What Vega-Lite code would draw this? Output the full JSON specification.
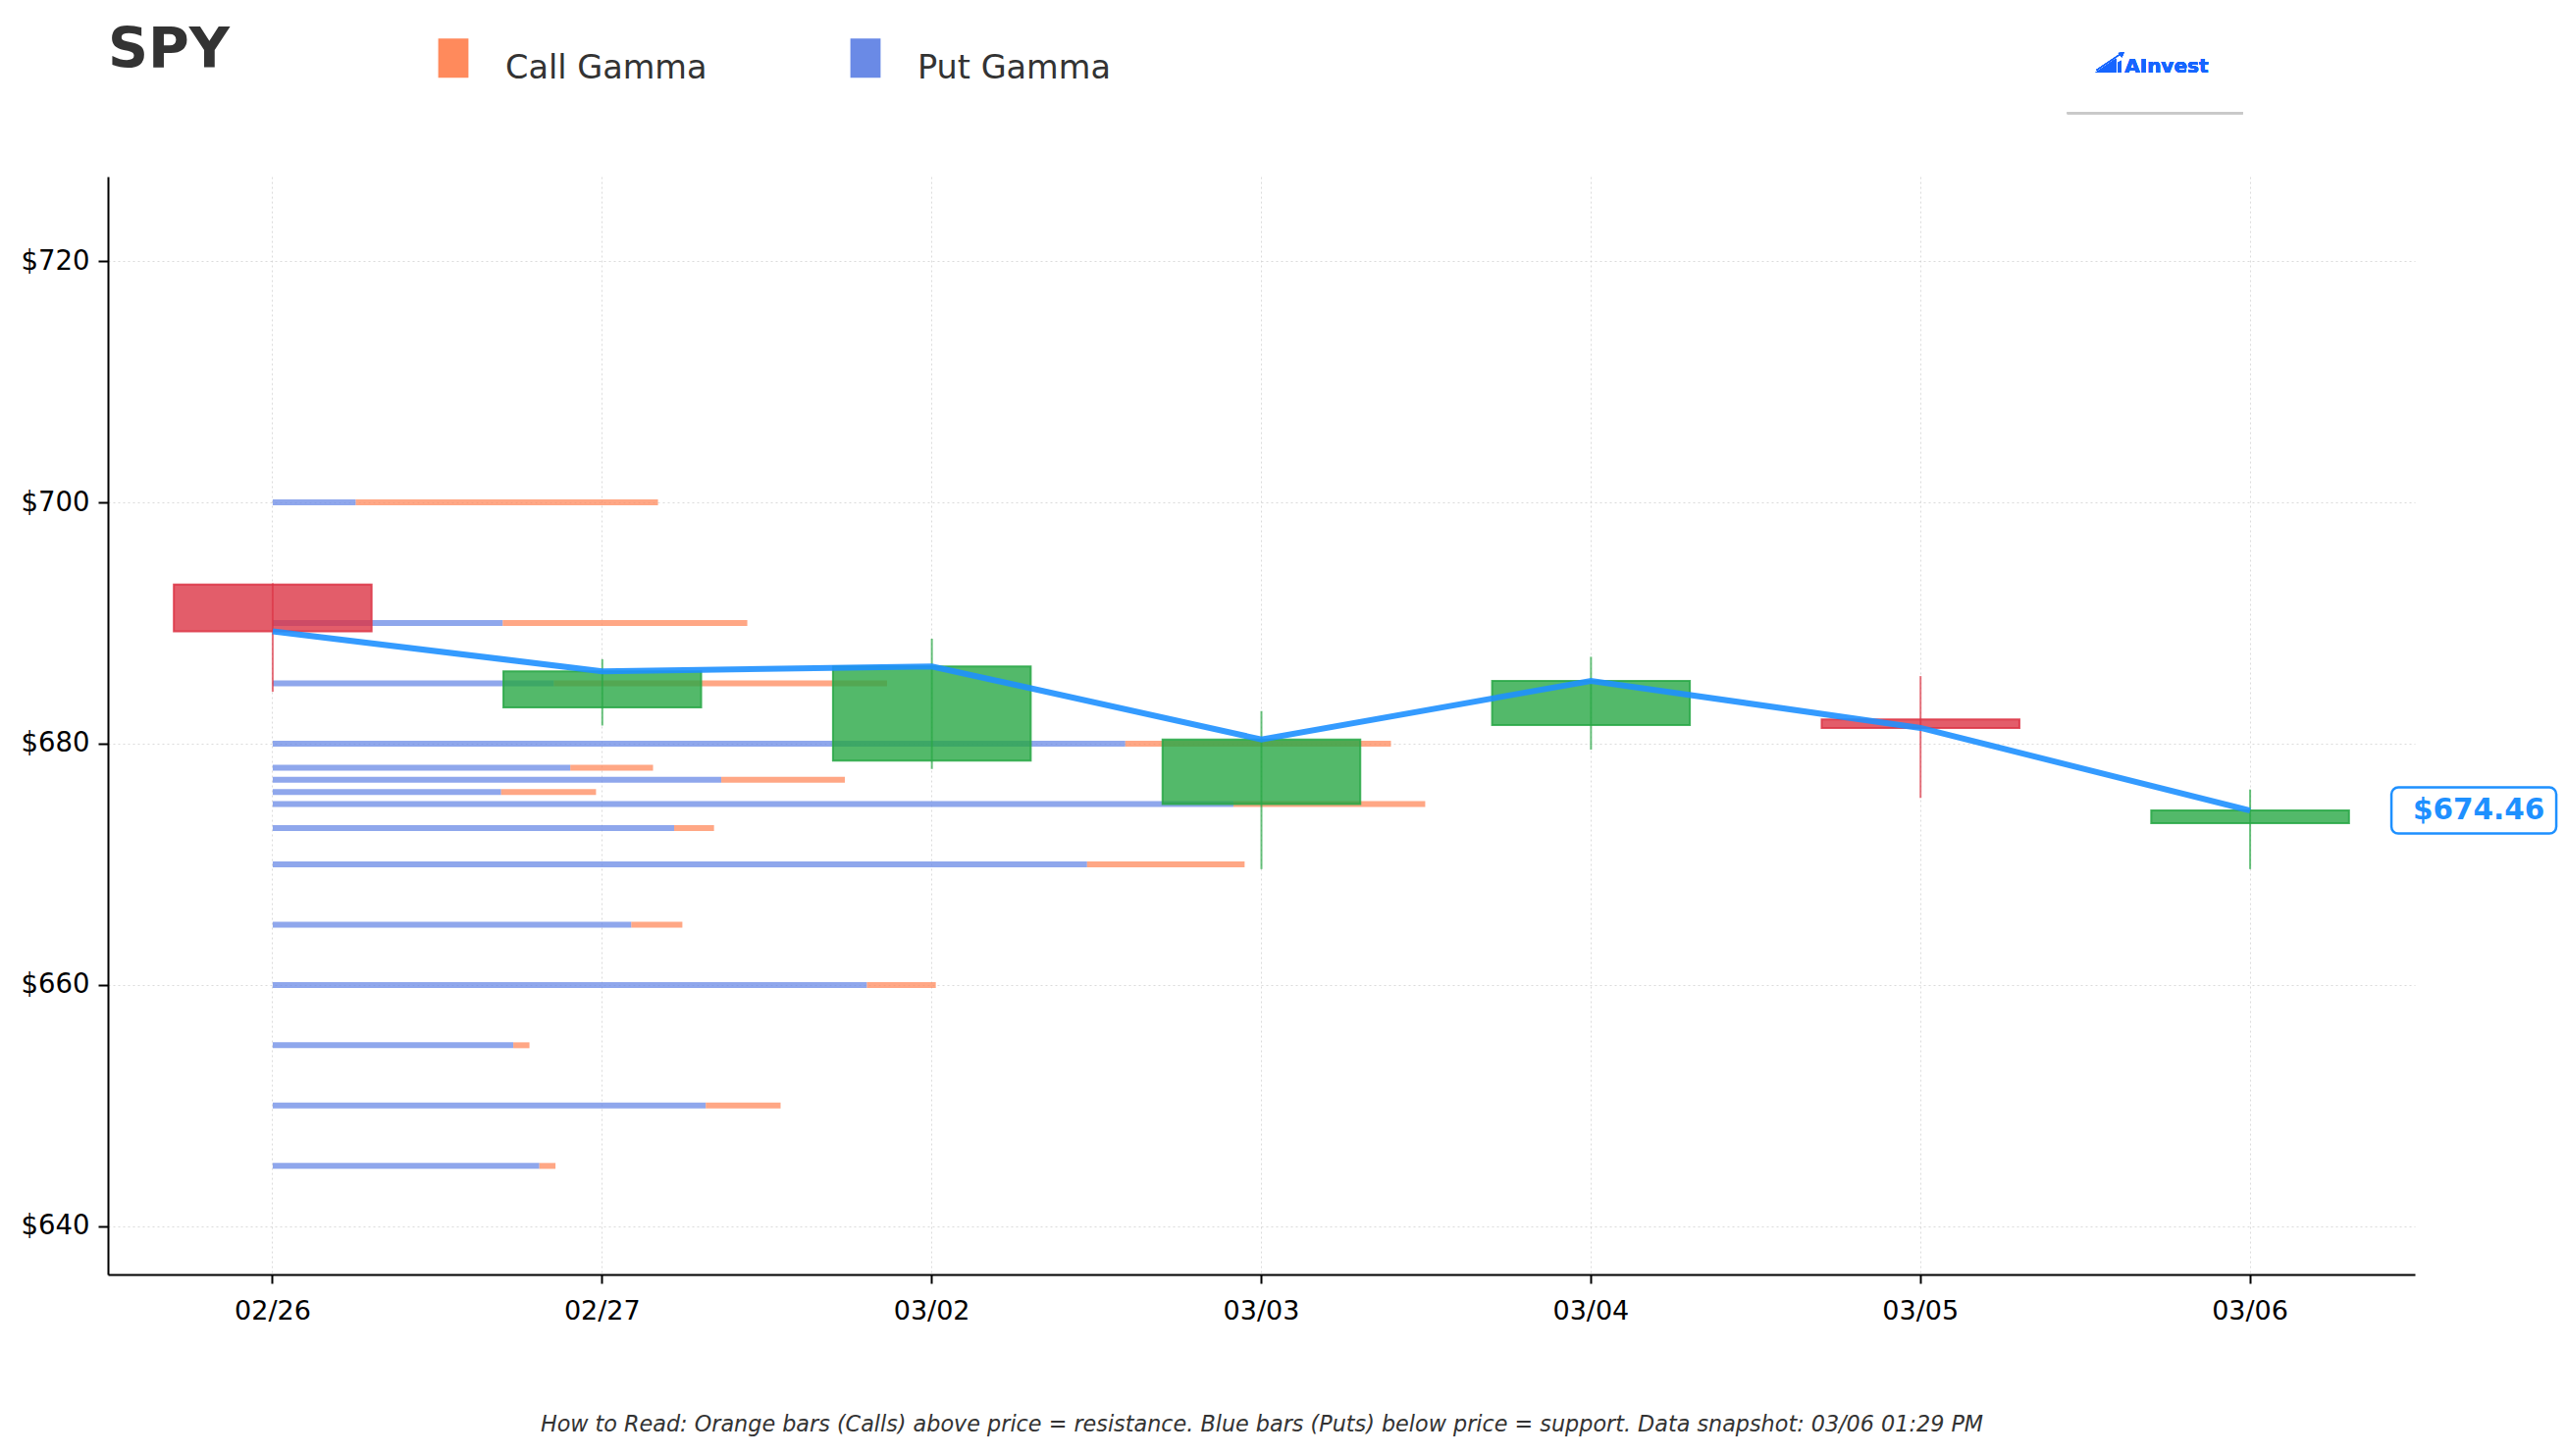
{
  "$schema": "https://vega.github.io/schema/vega-lite/v6.json",
  "width": 2351,
  "height": 1119,
  "autosize": {"type": "none"},
  "padding": {"left": 110, "top": 180, "right": 155, "bottom": 185},
  "background": "white",
  "config": {
    "font": "DejaVu Sans",
    "view": {"stroke": null}
  },
  "title": {
    "text": "SPY",
    "anchor": "start",
    "frame": "group",
    "fontSize": 57,
    "fontWeight": "bold",
    "color": "#333333",
    "offset": 0,
    "dy": 31
  },
  "datasets": {
    "candles": [
      {"date": "02/26", "open": 693.2, "high": 693.3, "low": 684.3, "close": 689.3},
      {"date": "02/27", "open": 683.0, "high": 687.0, "low": 681.5, "close": 686.0},
      {"date": "03/02", "open": 678.6, "high": 688.7, "low": 677.9, "close": 686.4},
      {"date": "03/03", "open": 675.0, "high": 682.7, "low": 669.6, "close": 680.35},
      {"date": "03/04", "open": 681.55, "high": 687.2, "low": 679.5, "close": 685.2},
      {"date": "03/05", "open": 682.0, "high": 685.6, "low": 675.5, "close": 681.3},
      {"date": "03/06", "open": 673.4, "high": 676.2, "low": 669.6, "close": 674.46}
    ],
    "gamma": [
      {"strike": 700, "type": "Put Gamma", "gamma": 25.2},
      {"strike": 700, "type": "Call Gamma", "gamma": 91.7},
      {"strike": 690, "type": "Put Gamma", "gamma": 69.8},
      {"strike": 690, "type": "Call Gamma", "gamma": 74.2},
      {"strike": 685, "type": "Put Gamma", "gamma": 85.3},
      {"strike": 685, "type": "Call Gamma", "gamma": 101.1},
      {"strike": 680, "type": "Put Gamma", "gamma": 258.7},
      {"strike": 680, "type": "Call Gamma", "gamma": 80.6},
      {"strike": 678, "type": "Put Gamma", "gamma": 90.3},
      {"strike": 678, "type": "Call Gamma", "gamma": 25.1},
      {"strike": 677, "type": "Put Gamma", "gamma": 136.1},
      {"strike": 677, "type": "Call Gamma", "gamma": 37.5},
      {"strike": 676, "type": "Put Gamma", "gamma": 69.3},
      {"strike": 676, "type": "Call Gamma", "gamma": 28.8},
      {"strike": 675, "type": "Put Gamma", "gamma": 291.5},
      {"strike": 675, "type": "Call Gamma", "gamma": 58.2},
      {"strike": 673, "type": "Put Gamma", "gamma": 121.8},
      {"strike": 673, "type": "Call Gamma", "gamma": 12.1},
      {"strike": 670, "type": "Put Gamma", "gamma": 247.1},
      {"strike": 670, "type": "Call Gamma", "gamma": 47.8},
      {"strike": 665, "type": "Put Gamma", "gamma": 108.8},
      {"strike": 665, "type": "Call Gamma", "gamma": 15.5},
      {"strike": 660, "type": "Put Gamma", "gamma": 180.3},
      {"strike": 660, "type": "Call Gamma", "gamma": 20.9},
      {"strike": 655, "type": "Put Gamma", "gamma": 73.0},
      {"strike": 655, "type": "Call Gamma", "gamma": 4.9},
      {"strike": 650, "type": "Put Gamma", "gamma": 131.4},
      {"strike": 650, "type": "Call Gamma", "gamma": 22.7},
      {"strike": 645, "type": "Put Gamma", "gamma": 80.9},
      {"strike": 645, "type": "Call Gamma", "gamma": 4.9}
    ]
  },
  "layer": [
    {
      "data": {"name": "gamma"},
      "mark": {"type": "bar", "orient": "horizontal", "size": 6, "opacity": 0.75},
      "encoding": {
        "x": {
          "field": "gamma",
          "type": "quantitative",
          "stack": "zero",
          "scale": {"domain": [-50, 650], "nice": false, "zero": false, "padding": 0},
          "axis": null
        },
        "y": {
          "field": "strike",
          "type": "quantitative",
          "scale": {"domain": [636, 727], "nice": false, "zero": false, "padding": 0},
          "axis": {
            "values": [640, 660, 680, 700, 720],
            "format": "$d",
            "title": null,
            "labelFontSize": 27.5,
            "labelColor": "#000000",
            "labelPadding": 9,
            "tickSize": 10,
            "tickWidth": 2,
            "tickColor": "#000000",
            "domainColor": "#000000",
            "domainWidth": 2,
            "grid": true,
            "gridColor": "#cccccc",
            "gridOpacity": 0.7,
            "gridDash": [2, 3],
            "gridWidth": 1
          }
        },
        "color": {
          "field": "type",
          "type": "nominal",
          "scale": {"domain": ["Call Gamma", "Put Gamma"], "range": ["#FF8A5C", "#6A8AE6"]},
          "legend": {
            "orient": "none",
            "legendX": 332,
            "legendY": -130,
            "direction": "horizontal",
            "title": null,
            "padding": 0,
            "symbolType": "M-0.77,-1.55H0.77V0.45H-0.77Z",
            "symbolSize": 1600,
            "symbolOpacity": 1,
            "symbolStrokeWidth": 0,
            "labelFontSize": 33.5,
            "labelColor": "#333333",
            "labelLimit": 500,
            "labelOffset": 33,
            "columnPadding": 141
          }
        },
        "order": {"field": "type", "sort": "descending"}
      }
    },
    {
      "data": {"name": "candles"},
      "layer": [
        {
          "mark": {"type": "rule", "strokeWidth": 2, "opacity": 0.7},
          "encoding": {
            "x": {
              "field": "date",
              "type": "ordinal",
              "scale": {
                "type": "band",
                "domain": ["02/26", "02/27", "03/02", "03/03", "03/04", "03/05", "03/06"],
                "paddingInner": 0.4,
                "paddingOuter": 0.2
              },
              "axis": {
                "labelAngle": 0,
                "labelFontSize": 27,
                "labelColor": "#000000",
                "labelPadding": 15,
                "tickSize": 9,
                "tickWidth": 2,
                "tickColor": "#000000",
                "domainColor": "#000000",
                "domainWidth": 2,
                "bandPosition": 0.5,
                "grid": true,
                "gridColor": "#cccccc",
                "gridOpacity": 0.7,
                "gridDash": [2, 3],
                "gridWidth": 1,
                "title": "How to Read: Orange bars (Calls) above price = resistance. Blue bars (Puts) below price = support. Data snapshot: 03/06 01:29 PM",
                "titleFontSize": 22.3,
                "titleFontStyle": "italic",
                "titleFontWeight": "normal",
                "titleColor": "#333333",
                "titlePadding": 91
              }
            },
            "y": {"field": "low", "type": "quantitative"},
            "y2": {"field": "high"},
            "color": {
              "condition": {"test": "datum.close >= datum.open", "value": "#28A745"},
              "value": "#DC3545"
            }
          }
        },
        {
          "mark": {"type": "bar", "fillOpacity": 0.8, "strokeOpacity": 0.85, "strokeWidth": 2},
          "encoding": {
            "x": {"field": "date", "type": "ordinal"},
            "y": {"field": "open", "type": "quantitative"},
            "y2": {"field": "close"},
            "fill": {
              "condition": {"test": "datum.close >= datum.open", "value": "#28A745"},
              "value": "#DC3545"
            },
            "stroke": {
              "condition": {"test": "datum.close >= datum.open", "value": "#28A745"},
              "value": "#DC3545"
            }
          }
        },
        {
          "mark": {"type": "line", "color": "#1E90FF", "strokeWidth": 6, "opacity": 0.9},
          "encoding": {
            "x": {"field": "date", "type": "ordinal"},
            "y": {"field": "close", "type": "quantitative"}
          }
        },
        {
          "transform": [{"filter": "datum.date == '03/06'"}],
          "mark": {
            "type": "point",
            "shape": "M-0.917,-0.28H0.917A0.083,0.083 0 0 1 1,-0.197V0.197A0.083,0.083 0 0 1 0.917,0.28H-0.917A0.083,0.083 0 0 1 -1,0.197V-0.197A0.083,0.083 0 0 1 -0.917,-0.28Z",
            "size": 28224,
            "filled": true,
            "fill": "#ffffff",
            "fillOpacity": 1,
            "stroke": "#1E90FF",
            "strokeWidth": 2.5,
            "opacity": 1,
            "xOffset": 228
          },
          "encoding": {
            "x": {"field": "date", "type": "ordinal"},
            "y": {"field": "close", "type": "quantitative"}
          }
        },
        {
          "transform": [{"filter": "datum.date == '03/06'"}],
          "mark": {
            "type": "text",
            "dx": 233,
            "align": "center",
            "baseline": "middle",
            "fontSize": 29.5,
            "fontWeight": "bold",
            "color": "#1E90FF"
          },
          "encoding": {
            "x": {"field": "date", "type": "ordinal"},
            "y": {"field": "close", "type": "quantitative"},
            "text": {"field": "close", "type": "quantitative", "format": "$.2f"}
          }
        },
        {
          "mark": {
            "type": "point",
            "shape": "M-0.99,0.64L0.46,-0.34L0.46,0.64Z M0.6,0.64V-0.07L0.83,-0.2V0.64Z M-0.95,0.45L0.8,-0.72L0.84,-0.66L-0.91,0.51Z M0.62,-0.74L1.03,-0.78L0.88,-0.42Z",
            "size": 841,
            "filled": true,
            "color": "#1565FF",
            "opacity": 1,
            "xOffset": 192.5
          },
          "encoding": {
            "x": {"datum": "03/05", "type": "ordinal"},
            "y": {"datum": 736.38, "type": "quantitative"}
          }
        },
        {
          "mark": {
            "type": "text",
            "text": "AInvest",
            "dx": 208,
            "align": "left",
            "baseline": "alphabetic",
            "fontSize": 20,
            "fontWeight": "bold",
            "color": "#1565FF"
          },
          "encoding": {
            "x": {"datum": "03/05", "type": "ordinal"},
            "y": {"datum": 735.62, "type": "quantitative"}
          }
        },
        {
          "mark": {
            "type": "point",
            "shape": "M-1,0H1",
            "size": 32041,
            "filled": false,
            "stroke": "#c8c8c8",
            "strokeWidth": 2,
            "opacity": 1,
            "xOffset": 239
          },
          "encoding": {
            "x": {"datum": "03/05", "type": "ordinal"},
            "y": {"datum": 732.26, "type": "quantitative"}
          }
        }
      ]
    }
  ],
  "resolve": {"scale": {"x": "independent"}}
}
